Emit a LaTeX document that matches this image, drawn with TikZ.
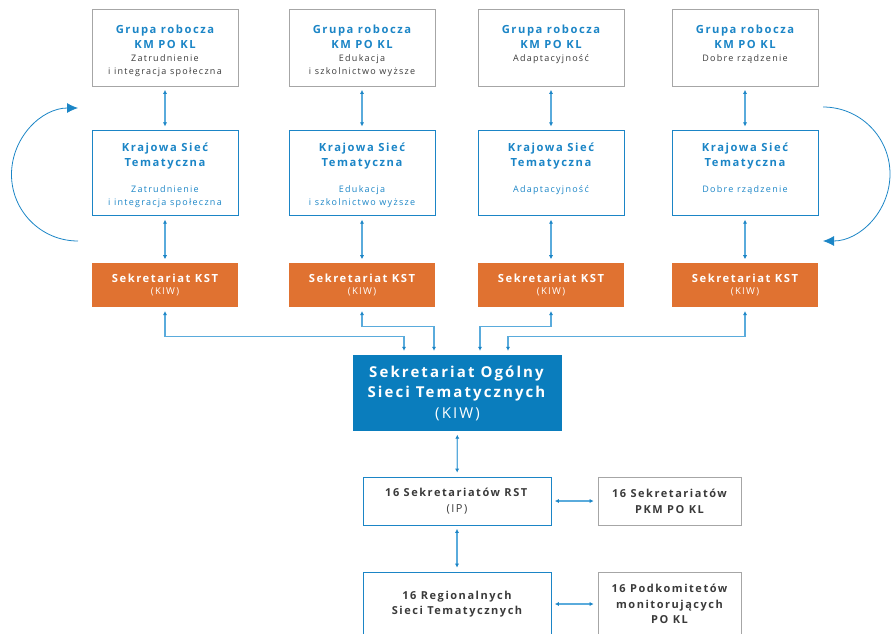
\documentclass[tikz,border=0pt]{standalone}
\usepackage{fontspec}
\setmainfont{Open Sans}[LetterSpace=14]
\usetikzlibrary{positioning,arrows.meta}
\definecolor{ksfblue}{HTML}{1B85C6}
\definecolor{ksflight}{HTML}{5AABDC}
\definecolor{ksforange}{HTML}{E07231}
\definecolor{ksfdark}{HTML}{0A7DBD}
\definecolor{ksfgray}{HTML}{A6A6A6}
\definecolor{ksftext}{HTML}{3A3A3A}
\newcommand{\Boxtext}[3]{\parbox[c][#1][t]{146pt}{\centering\vspace*{#2}#3}}
\newcommand{\TitleFont}{\bfseries\fontsize{11.2}{15}\selectfont}
\newcommand{\SmallFont}{\fontsize{9}{13}\selectfont}
\begin{document}
\begin{tikzpicture}[x=1pt,y=-1pt]
  \tikzstyle{grupa}=[draw=ksfgray, line width=0.8pt, inner sep=0pt]
  \tikzstyle{siec}=[draw=ksfblue, line width=0.8pt, inner sep=0pt]
  \tikzstyle{sekr}=[fill=ksforange, text=white, minimum width=146pt, minimum height=44pt, align=center, inner sep=0pt]
  \tikzstyle{lacz}=[draw=ksflight, line width=1.3pt, {Latex[length=4pt,width=4.2pt,color=ksfblue]}-{Latex[length=4pt,width=4.2pt,color=ksfblue]}, shorten <=3.5pt, shorten >=4pt]
  \tikzstyle{krag}=[draw=ksfblue, line width=0.8pt, -{Latex[length=11pt,width=10pt]}]
  \useasboundingbox (0,0) rectangle (891,633);
  % working groups
  \node (g1) [grupa] at (165,47.5) {\Boxtext{77pt}{15.5pt}{{\TitleFont\color{ksfblue}Grupa robocza\\ KM PO KL\par}{\SmallFont\color{ksftext}Zatrudnienie\\ i integracja społeczna\par}}};
  \node (g2) [grupa] at (362,47.5) {\Boxtext{77pt}{15.5pt}{{\TitleFont\color{ksfblue}Grupa robocza\\ KM PO KL\par}{\SmallFont\color{ksftext}Edukacja\\ i szkolnictwo wyższe\par}}};
  \node (g3) [grupa] at (551,47.5) {\Boxtext{77pt}{15.5pt}{{\TitleFont\color{ksfblue}Grupa robocza\\ KM PO KL\par}{\SmallFont\color{ksftext}Adaptacyjność\par}}};
  \node (g4) [grupa] at (745,47.5) {\Boxtext{77pt}{15.5pt}{{\TitleFont\color{ksfblue}Grupa robocza\\ KM PO KL\par}{\SmallFont\color{ksftext}Dobre rządzenie\par}}};
  % thematic networks
  \node (k1) [siec, below=44pt of g1] {\Boxtext{85pt}{12.5pt}{{\TitleFont\color{ksfblue}Krajowa Sieć\\ Tematyczna\par}\vspace{12.5pt}{\SmallFont\color{ksfblue}Zatrudnienie\\ i integracja społeczna\par}}};
  \node (k2) [siec, below=44pt of g2] {\Boxtext{85pt}{12.5pt}{{\TitleFont\color{ksfblue}Krajowa Sieć\\ Tematyczna\par}\vspace{12.5pt}{\SmallFont\color{ksfblue}Edukacja\\ i szkolnictwo wyższe\par}}};
  \node (k3) [siec, below=44pt of g3] {\Boxtext{85pt}{12.5pt}{{\TitleFont\color{ksfblue}Krajowa Sieć\\ Tematyczna\par}\vspace{12.5pt}{\SmallFont\color{ksfblue}Adaptacyjność\par}}};
  \node (k4) [siec, below=44pt of g4] {\Boxtext{85pt}{12.5pt}{{\TitleFont\color{ksfblue}Krajowa Sieć\\ Tematyczna\par}\vspace{12.5pt}{\SmallFont\color{ksfblue}Dobre rządzenie\par}}};
  % secretariats
  \foreach \i in {1,...,4}
    \node (s\i) [sekr, below=47pt of k\i] {{\TitleFont Sekretariat KST}\\ {\fontsize{9.5}{16}\selectfont(KIW)}};
  \node (sog) [fill=ksfdark, text=white, minimum width=209pt, minimum height=76pt, inner sep=0pt, align=center,
    font=\fontsize{15}{20.5}\selectfont] at (457.5,393) {\textbf{Sekretariat Ogólny}\\ \textbf{Sieci Tematycznych}\\ (KIW)};
  % regional level
  \node (rst) [siec, text=ksftext, minimum width=188pt, minimum height=48pt, align=center, font=\fontsize{11}{16}\selectfont]
    at (457,501) {\textbf{16 Sekretariatów RST}\\ (IP)};
  \node (pkm) [grupa, text=ksftext, minimum width=143pt, minimum height=48pt, align=center, font=\bfseries\fontsize{11}{16}\selectfont]
    at (669.5,501) {16 Sekretariatów\\ PKM PO KL};
  \node (rsn) [siec, text=ksftext, minimum width=188pt, minimum height=64pt, align=center, font=\bfseries\fontsize{11}{15.5}\selectfont]
    at (457,604) {16 Regionalnych\\ Sieci Tematycznych};
  \node (pod) [grupa, text=ksftext, minimum width=143pt, minimum height=64pt, align=center, font=\bfseries\fontsize{11}{15.5}\selectfont]
    at (669.5,604) {16 Podkomitetów\\ monitorujących\\ PO KL};
  % connectors
  \foreach \i in {1,...,4} {
    \draw [lacz] (g\i) -- (k\i);
    \draw [lacz] (k\i) -- (s\i);
  }
  \coordinate (in1) at ([xshift=-53.5pt]sog.north);
  \coordinate (in2) at ([xshift=-23.5pt]sog.north);
  \coordinate (in3) at ([xshift=22.5pt]sog.north);
  \coordinate (in4) at ([xshift=50.5pt]sog.north);
  \draw [lacz] (s1.south) -- ++(0,29) -| (in1);
  \draw [lacz] (s2.south) -- ++(0,19) -| (in2);
  \draw [lacz] (s3.south) -- ++(0,19) -| (in3);
  \draw [lacz] (s4.south) -- ++(0,29) -| (in4);
  \draw [lacz] (sog) -- (rst);
  \draw [lacz] (rst) -- (rsn);
  \draw [lacz] (rst) -- (pkm);
  \draw [lacz] (rsn.east) -- (pod.west |- rsn.east);
  % feedback loops
  \coordinate (loopL) at (78,241);
  \coordinate (loopR) at (823,107);
  \draw [krag] (loopL) arc[start angle=90, end angle=270, radius=66.5];
  \draw [krag] (loopR) arc[start angle=-90, end angle=90, radius=67];
\end{tikzpicture}
\end{document}
